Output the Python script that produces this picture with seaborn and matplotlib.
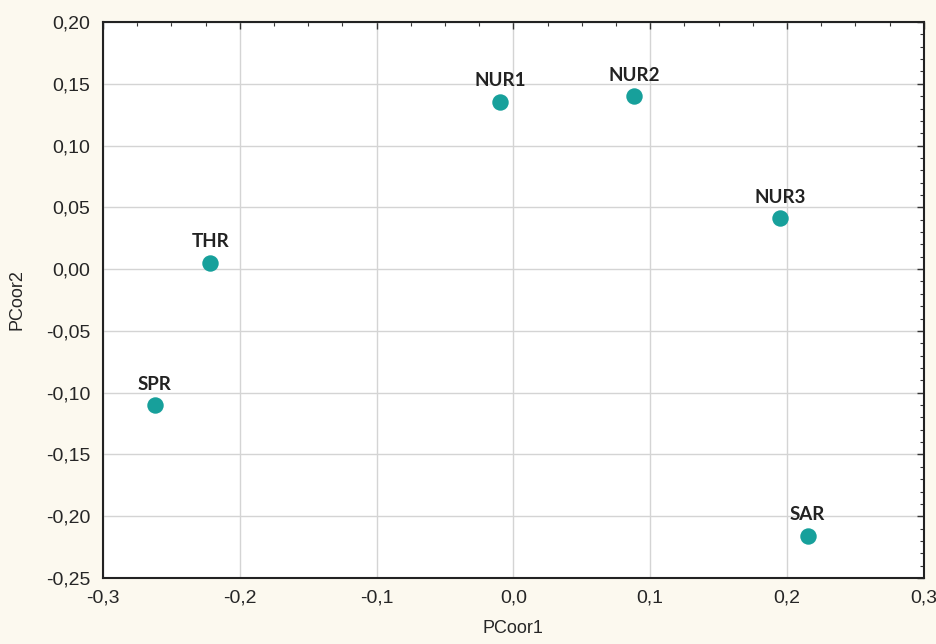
import matplotlib
matplotlib.use("Agg")
import matplotlib.pyplot as plt
from matplotlib.ticker import MultipleLocator, FuncFormatter
import seaborn as sns
import pandas as pd

# Principal coordinates of each site
sites = ["NUR1", "NUR2", "NUR3", "THR", "SPR", "SAR"]
pcoor1 = [-0.0095, 0.088, 0.195, -0.2215, -0.262, 0.215]
pcoor2 = [0.1355, 0.140, 0.041, 0.005, -0.110, -0.216]

df = pd.DataFrame({"site": sites, "PCoor1": pcoor1, "PCoor2": pcoor2})

sns.set_style("white")
plt.rcParams["font.family"] = ["Liberation Sans", "DejaVu Sans"]

fig = plt.figure(figsize=(9.36, 6.44), dpi=100, facecolor="#FCF9EF")
ax = fig.add_axes([0.110, 0.1025, 0.877, 0.8633])
ax.set_facecolor("white")

sns.scatterplot(data=df, x="PCoor1", y="PCoor2", ax=ax, s=140, marker="o",
                color="#17A09B", edgecolor="#17A09B", linewidth=0, zorder=3)

for name, x, y in zip(sites, pcoor1, pcoor2):
    ax.annotate(name, (x, y), xytext=(0, 9), textcoords="offset points",
                ha="center", va="bottom", fontsize=13.5, fontweight="bold",
                family=["Lato", "DejaVu Sans"], color="#222222", zorder=4)

ax.set_xlim(-0.3, 0.3)
ax.set_ylim(-0.25, 0.20)
ax.xaxis.set_major_locator(MultipleLocator(0.1))
ax.xaxis.set_minor_locator(MultipleLocator(0.025))
ax.yaxis.set_major_locator(MultipleLocator(0.05))
ax.yaxis.set_minor_locator(MultipleLocator(0.01))

ax.xaxis.set_major_formatter(FuncFormatter(lambda v, p: f"{v:.1f}".replace(".", ",").replace("-0,0", "0,0")))
ax.yaxis.set_major_formatter(FuncFormatter(lambda v, p: f"{v:.2f}".replace(".", ",").replace("-0,00", "0,00")))

ax.grid(True, which="major", color="#D4D4D4", linewidth=1.0, zorder=0)
ax.tick_params(which="both", direction="in", top=True, right=True, colors="#333333",
               labelcolor="#262626", labelsize=14)
ax.tick_params(which="major", length=5, width=1)
ax.tick_params(which="minor", length=3, width=0.8)
ax.tick_params(axis="x", which="major", pad=8)
ax.tick_params(axis="y", which="major", pad=9)
for sp in ax.spines.values():
    sp.set_color("#222222")
    sp.set_linewidth(1.5)

ax.set_xlabel("PCoor1", fontsize=13, color="#262626", labelpad=10)
ax.set_ylabel("PCoor2", fontsize=13, color="#262626", labelpad=15)

fig.savefig("out.png", dpi=100, facecolor=fig.get_facecolor())
